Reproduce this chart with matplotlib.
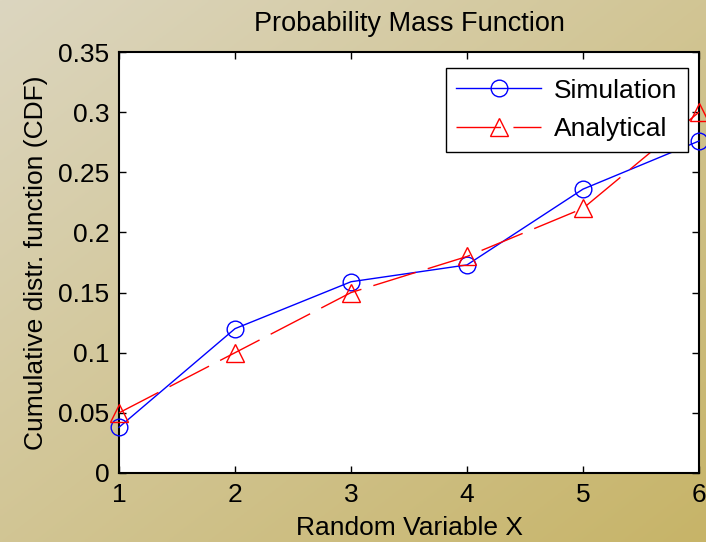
import matplotlib

matplotlib.use("Agg")
import matplotlib.pyplot as plt
import numpy as np

plt.rcParams["font.family"] = ["Liberation Sans", "DejaVu Sans"]

x_values = [1, 2, 3, 4, 5, 6]
simulation = [0.038, 0.120, 0.159, 0.173, 0.236, 0.276]
analytical = [0.05, 0.10, 0.15, 0.18, 0.22, 0.30]
y_ticks = [0, 0.05, 0.1, 0.15, 0.2, 0.25, 0.3, 0.35]
y_tick_labels = ["0", "0.05", "0.1", "0.15", "0.2", "0.25", "0.3", "0.35"]

fig = plt.figure(figsize=(7.06, 5.42), dpi=100)

# tan gradient background, light top-left to darker bottom-right
bg = fig.add_axes([0, 0, 1, 1], zorder=0)
gx, gy = np.meshgrid(np.linspace(0, 1, 200), np.linspace(0, 1, 200))
t = np.clip((gx + gy) / 2, 0, 1)[..., None]
top_left = np.array([220, 214, 192]) / 255
bottom_right = np.array([199, 180, 104]) / 255
bg.imshow(top_left + (bottom_right - top_left) * t, aspect="auto", extent=[0, 1, 0, 1])
bg.set_axis_off()

ax = fig.add_axes([119 / 706, 1 - 473 / 542, 580 / 706, 421 / 542], zorder=1)
ax.set_facecolor("white")
ax.plot(x_values, simulation, color="#0000ff", linewidth=1.0, marker="o", markersize=12,
        markerfacecolor="none", markeredgecolor="#0000ff", markeredgewidth=1.0,
        label="Simulation", clip_on=False, zorder=3)
ax.plot(x_values, analytical, color="#ff0000", linewidth=1.0, dashes=(32, 9), marker="^", markersize=13,
        markerfacecolor="none", markeredgecolor="#ff0000", markeredgewidth=1.0,
        label="Analytical", clip_on=False, zorder=3)

ax.set_xlim(1, 6)
ax.set_ylim(0, 0.35)
ax.set_xticks(x_values)
ax.set_yticks(y_ticks)
ax.set_yticklabels(y_tick_labels)
ax.tick_params(direction="in", top=True, right=True, labelsize=19, length=5, width=1, pad=7)
for spine in ax.spines.values():
    spine.set_linewidth(1.5)

ax.set_title("Probability Mass Function", fontsize=19.5, pad=15)
ax.set_xlabel("Random Variable X", fontsize=19, labelpad=7)
ax.set_ylabel("Cumulative distr. function (CDF)", fontsize=19, labelpad=7)

legend = ax.legend(loc="upper right", bbox_to_anchor=(0.981, 0.962), fontsize=19, fancybox=False,
                   framealpha=1, edgecolor="black", borderaxespad=0, handlelength=3.2,
                   borderpad=0.4, labelspacing=0.55, handletextpad=0.5)
legend.get_frame().set_linewidth(1.0)

fig.savefig("out.png", dpi=100)
plt.close(fig)
